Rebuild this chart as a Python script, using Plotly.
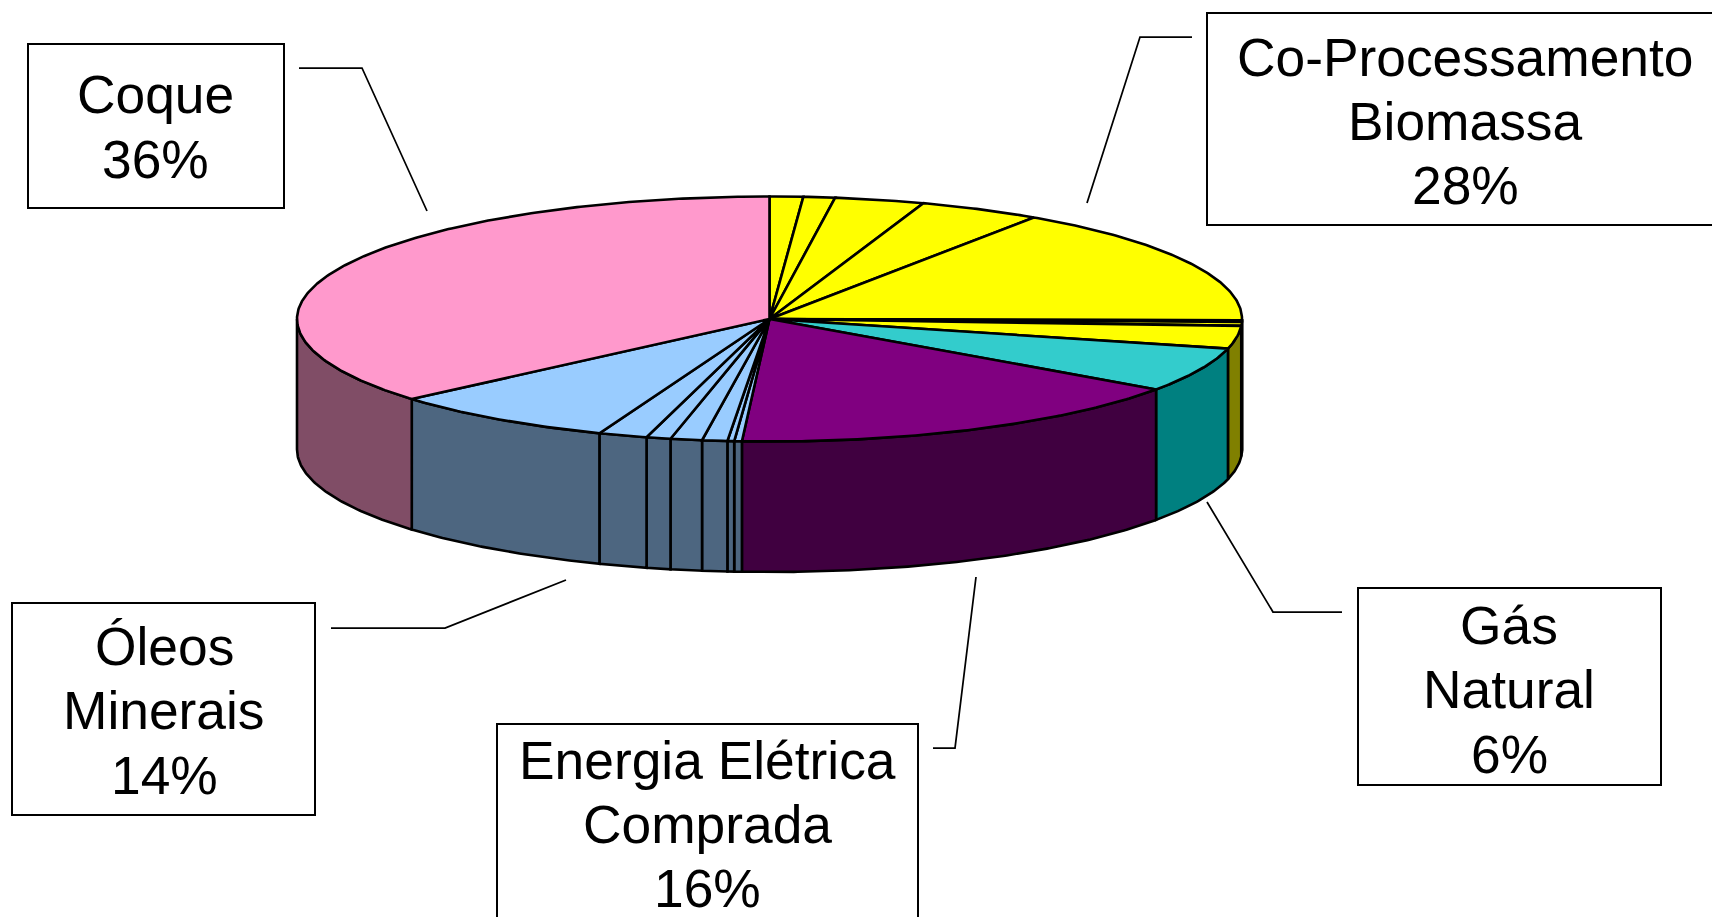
import numpy as np
import plotly.graph_objects as go

# Shares, clockwise from 12 o'clock (percent)
slice_names = (["Co-Processamento Biomassa"] * 8 + ["Gás Natural", "Energia Elétrica Comprada"]
               + ["Óleos Minerais"] * 7 + ["Coque"])
slice_values = [1.14, 1.08, 3.06, 4.17, 15.72, 0.22, 0.50, 3.00, 5.86, 16.18,
                0.26, 0.23, 0.86, 1.08, 0.83, 1.67, 7.81, 36.33]
group_colors = {
    "Co-Processamento Biomassa": ("#FFFF00", "#808000"),
    "Gás Natural": ("#33CCCC", "#008080"),
    "Energia Elétrica Comprada": ("#800080", "#400040"),
    "Óleos Minerais": ("#99CCFF", "#4D6680"),
    "Coque": ("#FF99CC", "#804D66"),
}

label_lines = {
    "Coque": ["Coque", "36%"],
    "Co-Processamento Biomassa": ["Co-Processamento", "Biomassa", "28%"],
    "Gás Natural": ["Gás", "Natural", "6%"],
    "Energia Elétrica Comprada": ["Energia Elétrica", "Comprada", "16%"],
    "Óleos Minerais": ["Óleos", "Minerais", "14%"],
}

# layout geometry of the drawing, in page pixels
CX, CY, RX, RY, DEPTH = 769.5, 319, 472.5, 122.5, 130.5
FONT = "Liberation Sans"
FONT_SIZE = 53.33
BASE_OFFSET = 18  # baseline to middle of the annotation box

boxes = {  # x0, y0, x1, y1, text centre x, baselines
    "Coque": (28, 44, 284, 208, 155.5, [112, 177]),
    "Co-Processamento Biomassa": (1207, 13, 1730, 225, 1465, [75, 139, 203]),
    "Gás Natural": (1358, 588, 1661, 785, 1509, [643, 707, 772]),
    "Energia Elétrica Comprada": (497, 724, 918, 940, 707, [778, 842, 906]),
    "Óleos Minerais": (12, 603, 315, 815, 164, [664, 728, 793]),
}
leaders = [
    ([299, 362, 427], [68, 68, 211]),
    ([1192, 1140, 1087], [37, 37, 203]),
    ([1342, 1273, 1207], [612, 612, 502]),
    ([933, 955, 976], [748, 748, 577]),
    ([331, 445, 566], [628, 628, 580]),
]

total = sum(slice_values)
edges = np.cumsum([0] + slice_values) / total * 2 * np.pi


def px(t):
    return CX + RX * np.sin(t), CY - RY * np.cos(t)


fig = go.Figure()
line = dict(color="black", width=2.6)

# outer wall: only the front half (90°..270°) is visible
for i, name in enumerate(slice_names):
    a, b = max(edges[i], np.pi / 2), min(edges[i + 1], 3 * np.pi / 2)
    if b <= a:
        continue
    t = np.linspace(a, b, max(2, int((b - a) * 120)))
    x, y = px(t)
    fig.add_trace(go.Scatter(
        x=np.r_[x, x[::-1], x[0]], y=np.r_[y, y[::-1] + DEPTH, y[0]],
        mode="lines", fill="toself", fillcolor=group_colors[name][1],
        line=line, hoverinfo="skip", showlegend=False))

# top face
for i, name in enumerate(slice_names):
    a, b = edges[i], edges[i + 1]
    t = np.linspace(a, b, max(2, int((b - a) * 120)))
    x, y = px(t)
    fig.add_trace(go.Scatter(
        x=np.r_[CX, x, CX], y=np.r_[CY, y, CY],
        mode="lines", fill="toself", fillcolor=group_colors[name][0],
        line=line, hoverinfo="skip", showlegend=False))

shapes = []
for x0, y0, x1, y1, *_ in boxes.values():
    shapes.append(dict(type="rect", x0=x0, y0=y0, x1=x1, y1=y1, xref="x", yref="y",
                       line=dict(color="black", width=2), fillcolor="white"))
for xs, ys in leaders:
    fig.add_trace(go.Scatter(x=xs, y=ys, mode="lines", line=dict(color="black", width=1.75),
                             hoverinfo="skip", showlegend=False))

annotations = []
for name, lines in label_lines.items():
    *_, cx, bases = boxes[name]
    for text, base in zip(lines, bases):
        annotations.append(dict(x=cx, y=base - BASE_OFFSET, xref="x", yref="y", text=text,
                                showarrow=False, xanchor="center", yanchor="middle",
                                font=dict(family=FONT, size=FONT_SIZE, color="black")))

axis = dict(visible=False, fixedrange=True)
fig.update_layout(
    width=1712, height=917, margin=dict(l=0, r=0, t=0, b=0),
    paper_bgcolor="white", plot_bgcolor="white", showlegend=False,
    xaxis=dict(range=[0, 1712], **axis),
    yaxis=dict(range=[917, 0], **axis),
    shapes=shapes, annotations=annotations,
)
fig.write_html("out.html", config=dict(displayModeBar=False),
               post_script="document.body.style.margin='0';document.documentElement.style.overflow='hidden';")
